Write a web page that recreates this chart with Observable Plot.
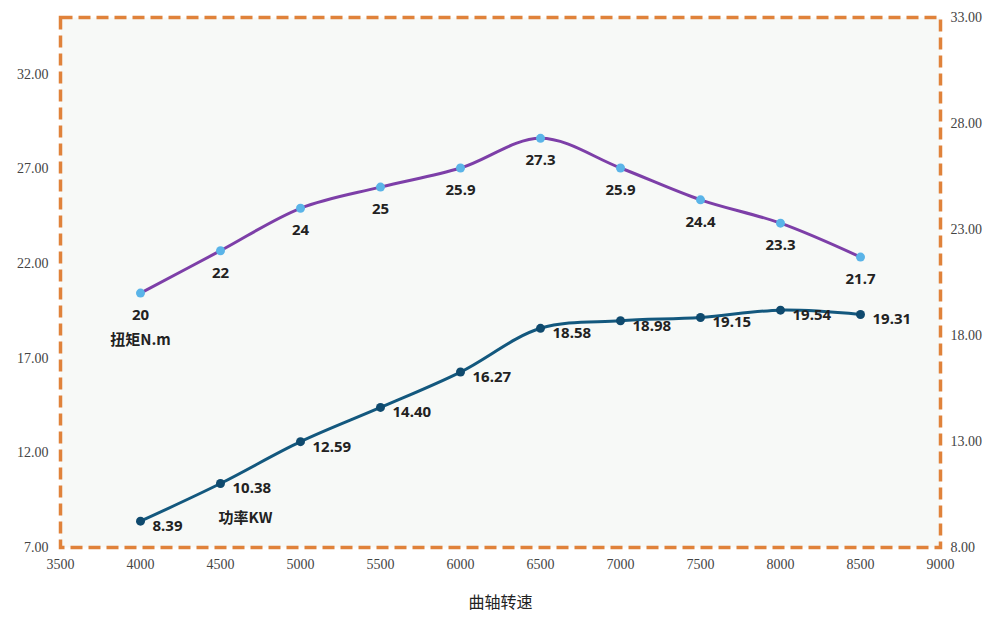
<!DOCTYPE html>
<html><head><meta charset="utf-8">
<script src="https://cdn.jsdelivr.net/npm/d3@7"></script>
<script src="https://cdn.jsdelivr.net/npm/@observablehq/plot@0.6"></script>
<style>body{margin:0;background:#fff;font-family:"Noto Sans CJK SC",sans-serif}</style>
</head><body><div id="c"></div>
<script>
const rpm = [4000,4500,5000,5500,6000,6500,7000,7500,8000,8500];
const torque = [20,22,24,25,25.9,27.3,25.9,24.4,23.3,21.7];
const power = [8.39,10.38,12.59,14.40,16.27,18.58,18.98,19.15,19.54,19.31];
const powerLabels = ["8.39","10.38","12.59","14.40","16.27","18.58","18.98","19.15","19.54","19.31"];
const leftTicks = [7,12,17,22,27,32];
const rightTicks = [8,13,18,23,28,33];
const xTicks = [3500,4000,4500,5000,5500,6000,6500,7000,7500,8000,8500,9000];
const toLeft = v => 7 + (v - 8) * 28 / 25;
const tData = rpm.map((x,i)=>({x, y: toLeft(torque[i]), label: String(torque[i])}));
const pData = rpm.map((x,i)=>({x, y: power[i], label: powerLabels[i]}));
const fmt = d => d.toFixed(2);
const rightPos = rightTicks.map(toLeft);
const chart = Plot.plot({
  width: 1000, height: 632,
  marginLeft: 60, marginRight: 60, marginTop: 17, marginBottom: 85,
  style: {background: "#fff", fontFamily: "Liberation Serif, serif", fontSize: "14px"},
  x: {domain: [3500, 9000], label: null},
  y: {domain: [7, 35], label: null},
  marks: [
    Plot.frame({fill: "#f7f9f7", stroke: "#e0823a", strokeWidth: 3.5, strokeDasharray: "12,6"}),
    Plot.axisY({ticks: leftTicks, tickFormat: fmt, tickSize: 0, tickPadding: 12, fill: "#444", label: null}),
    Plot.axisY(rightPos, {anchor: "right", tickFormat: d => fmt(rightTicks[rightPos.indexOf(d)]), tickSize: 0, tickPadding: 10, fill: "#444", label: null}),
    Plot.axisX(xTicks, {tickFormat: d => String(d), tickSize: 0, tickPadding: 12, fill: "#444", label: null}),
    Plot.line(tData, {x: "x", y: "y", curve: "catmull-rom", stroke: "#7d3fa8", strokeWidth: 3}),
    Plot.dot(tData, {x: "x", y: "y", r: 4.5, fill: "#5ab4e8"}),
    Plot.text(tData, {x: "x", y: "y", text: "label", dy: 22, fontSize: 15, fontWeight: "bold", fill: "#222", fontFamily: "Noto Sans"}),
    Plot.line(pData, {x: "x", y: "y", curve: "catmull-rom", stroke: "#13587e", strokeWidth: 3}),
    Plot.dot(pData, {x: "x", y: "y", r: 4.5, fill: "#0f4a6e"}),
    Plot.text(pData, {x: "x", y: "y", text: "label", dx: 12, dy: 5, textAnchor: "start", fontSize: 15, fontWeight: "bold", fill: "#222", fontFamily: "Noto Sans"}),
    Plot.text([{x: 4000, y: toLeft(20), t: "扭矩N.m"}], {x: "x", y: "y", text: "t", dy: 47, fontSize: 15, fontWeight: "bold", fill: "#222", fontFamily: "Noto Sans CJK SC"}),
    Plot.text([{x: 4500, y: power[1], t: "功率KW"}], {x: "x", y: "y", text: "t", dx: 25, dy: 35, fontSize: 15, fontWeight: "bold", fill: "#222", fontFamily: "Noto Sans CJK SC"}),
    Plot.text(["曲轴转速"], {frameAnchor: "bottom", dy: 60, fontSize: 16, fill: "#222", fontFamily: "Noto Sans CJK SC"})
  ]
});
document.getElementById("c").append(chart);
</script></body></html>
